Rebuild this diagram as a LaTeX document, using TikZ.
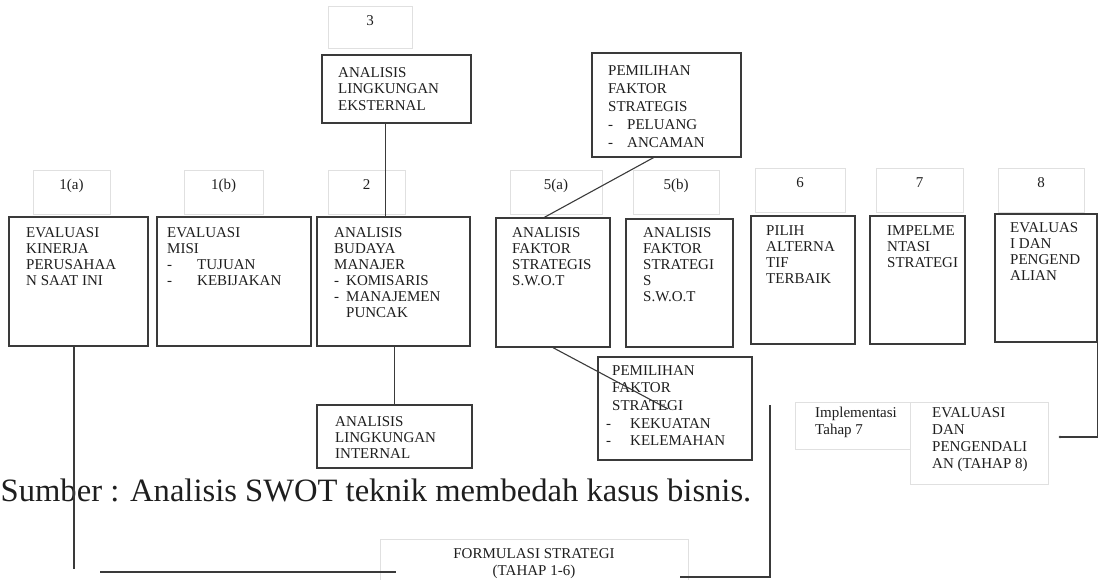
\documentclass[tikz,border=0pt]{standalone}
\usepackage{fontspec}
\setmainfont{Liberation Serif}
\usetikzlibrary{fit}

\definecolor{boxline}{HTML}{3A3A3A}
\definecolor{faint}{HTML}{E0E0E0}
\definecolor{ink}{HTML}{1E1E1E}

\tikzset{
  mainbox/.style={draw=boxline, line width=1.3pt, inner sep=0pt},
  numbox/.style={draw=faint, line width=0.9pt, inner sep=0pt},
  boxtext/.style={anchor=north west, align=left, inner sep=0pt, text=ink,
    font=\fontsize{15}{16}\selectfont},
  numtext/.style={anchor=base, inner sep=0pt, text=ink,
    font=\fontsize{15}{16}\selectfont},
  link/.style={draw=boxline, line width=1.1pt},
}

\begin{document}
\begin{tikzpicture}[x=1pt,y=-1pt]
  \useasboundingbox (0,0) rectangle (1099,580);
  % Step numbers (faint boxes)
  \node[numbox, fit={(328,6) (412,48)}] (n3) {};
  \node[numtext] (n3t) at ([yshift=-20pt]n3.north) {3};
  \foreach \nm/\xa/\xb/\ya/\lab in {n1a/33/110/170/1(a), n1b/184/263/170/1(b),
      n2/328/405/170/2, n5a/510/602/170/5(a), n5b/633/719/170/5(b),
      n6/755/845/168/6, n7/876/963/168/7, n8/998/1084/168/8} {
    \node[numbox, fit={(\xa,\ya) (\xb,\ya+44)}] (\nm) {};
    \node[numtext] (\nm t) at ([yshift=-20pt]\nm.north) {\lab};}
  % Main row of steps
  \foreach \nm/\xa/\ya/\xb/\yb in {b1a/9/217/148/346, b1b/157/217/311/346,
      b2/317/217/470/346, b5a/496/218/610/347, b5b/626/219/733/347,
      b6/751/216/855/344, b7/870/216/965/344, b8/995/214/1097/342} {
    \node[mainbox, fit={(\xa,\ya) (\xb,\yb)}] (\nm) {};}
  \node[boxtext] (t1a) at (26,227) {EVALUASI\\KINERJA\\PERUSAHAA\\N SAAT INI};
  \node[boxtext] (t1b) at (167,227) {EVALUASI\\MISI\\
    \makebox[30pt][l]{-}TUJUAN\\\makebox[30pt][l]{-}KEBIJAKAN};
  \node[boxtext] (t2) at (334,227) {ANALISIS\\BUDAYA\\MANAJER\\
    \makebox[12pt][l]{-}KOMISARIS\\\makebox[12pt][l]{-}MANAJEMEN\\
    \hspace*{12pt}PUNCAK};
  \node[boxtext] (t5a) at (512,227) {ANALISIS\\FAKTOR\\STRATEGIS\\S.W.O.T};
  \node[boxtext] (t5b) at (643,227) {ANALISIS\\FAKTOR\\STRATEGI\\S\\S.W.O.T};
  \node[boxtext] (t6) at (766,225) {PILIH\\ALTERNA\\TIF\\TERBAIK};
  \node[boxtext] (t7) at (887,225) {IMPELME\\NTASI\\STRATEGI};
  \node[boxtext] (t8) at (1010,222) {EVALUAS\\I DAN\\PENGEND\\ALIAN};
  % Environment and factor boxes
  \node[mainbox, fit={(322,55) (471,123)}] (bext) {};
  \node[boxtext, font=\fontsize{15}{16.5}\selectfont] (text) at (338,67)
    {ANALISIS\\LINGKUNGAN\\EKSTERNAL};
  \node[mainbox, fit={(592,53) (741,157)}] (bpo) {};
  \node[boxtext, font=\fontsize{15}{18}\selectfont] (tpo) at (608,65)
    {PEMILIHAN\\FAKTOR\\STRATEGIS\\\makebox[19pt][l]{-}PELUANG\\
    \makebox[19pt][l]{-}ANCAMAN};
  \node[mainbox, fit={(317,405) (472,468)}] (bint) {};
  \node[boxtext] (tint) at (335,416) {ANALISIS\\LINGKUNGAN\\INTERNAL};
  \node[mainbox, fit={(598,357) (752,460)}] (bpfs) {};
  \node[boxtext, font=\fontsize{15}{17.7}\selectfont] (tpfs) at (606,365)
    {\hspace*{6pt}PEMILIHAN\\\hspace*{6pt}FAKTOR\\\hspace*{6pt}STRATEGI\\
    \makebox[24pt][l]{-}KEKUATAN\\\makebox[24pt][l]{-}KELEMAHAN};
  % Implementation and control
  \node[numbox, fit={(795,402) (910,449)}] (bimp) {};
  \node[boxtext, font=\fontsize{15}{17}\selectfont] (timp) at (815,407)
    {Implementasi\\Tahap 7};
  \node[numbox, fit={(910,402) (1048,484)}] (beval) {};
  \node[boxtext, font=\fontsize{15}{17}\selectfont] (teval) at (932,407)
    {EVALUASI\\DAN\\PENGENDALI\\AN (TAHAP 8)};
  \node[numbox, fit={(380,539) (688,592)}] (bform) {};
  \node[boxtext, anchor=north, align=center, font=\fontsize{15}{17}\selectfont]
    (tform) at (534,548) {FORMULASI STRATEGI\\(TAHAP 1-6)};
  % Source line
  \node[anchor=base west, inner sep=0pt, text=ink,
    font=\fontsize{32.6}{39}\selectfont] (src) at (0.5,501)
    {Sumber : Analisis SWOT teknik membedah kasus bisnis.};
  % Connectors
  \coordinate (pfsend) at (668,409);
  \coordinate (aend) at (74,569);
  \coordinate (leftend) at (100,572);
  \coordinate (formL) at (396,572);
  \coordinate (rtop) at (770,405);
  \coordinate (formR) at (680,577);
  \coordinate (evalpt) at (1060,437);
  \draw[link] ([xshift=-11pt]bext.south) -- ([xshift=-11pt]bext.south |- b2.north);
  \draw[link] ([xshift=-13pt]bpo.south) -- ([xshift=49pt]b5a.north west);
  \draw[link] (bint.north) -- (bint.north |- b2.south);
  \draw[link] (b5a.south) -- (pfsend);
  \draw[link] (b1a.south -| aend) -- (aend);
  \draw[link] (leftend) -- (formL);
  \draw[link] (rtop) |- (formR);
  \draw[link] (b8.south east) |- (evalpt);
  \fill[boxline] (evalpt) circle (1.3);
\end{tikzpicture}
\end{document}
